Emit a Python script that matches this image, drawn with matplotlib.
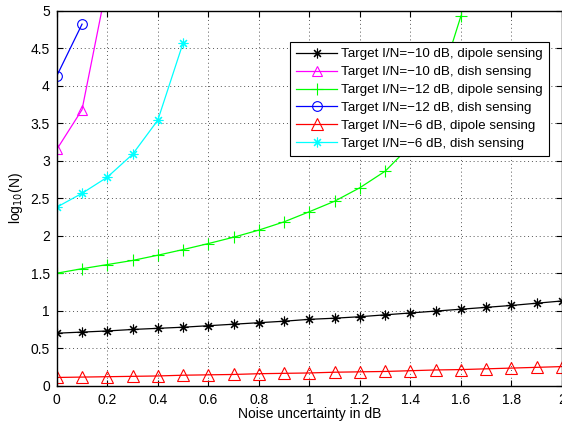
import matplotlib
matplotlib.use("Agg")
import matplotlib.pyplot as plt
import numpy as np

plt.rcParams['font.family'] = ['Liberation Sans', 'DejaVu Sans']

# noise uncertainty (dB)
x_full = np.round(np.arange(0, 2.01, 0.1), 1)

dipole_m10 = [0.70, 0.715, 0.73, 0.75, 0.765, 0.78, 0.80, 0.82, 0.84, 0.86, 0.885,
              0.90, 0.92, 0.945, 0.97, 0.995, 1.02, 1.045, 1.07, 1.10, 1.13]
dish_m10_x = [0.0, 0.1, 0.2]
dish_m10 = [3.15, 3.68, 5.37]
dipole_m12_x = x_full[:17]
dipole_m12 = [1.50, 1.56, 1.615, 1.67, 1.74, 1.815, 1.895, 1.98, 2.075, 2.185,
              2.32, 2.46, 2.64, 2.86, 3.20, 3.86, 4.93]
dish_m12_x = [0.0, 0.1]
dish_m12 = [4.13, 4.82]
dipole_m6 = [0.11, 0.115, 0.12, 0.125, 0.13, 0.14, 0.145, 0.15, 0.16, 0.165, 0.17,
             0.18, 0.185, 0.19, 0.20, 0.21, 0.215, 0.225, 0.235, 0.245, 0.255]
dish_m6_x = [0.0, 0.1, 0.2, 0.3, 0.4, 0.5]
dish_m6 = [2.38, 2.565, 2.78, 3.085, 3.54, 4.57]

labels = ["Target I/N=\u221210 dB, dipole sensing",
          "Target I/N=\u221210 dB, dish sensing",
          "Target I/N=\u221212 dB, dipole sensing",
          "Target I/N=\u221212 dB, dish sensing",
          "Target I/N=\u22126 dB, dipole sensing",
          "Target I/N=\u22126 dB, dish sensing"]

fig = plt.figure(figsize=(5.62, 4.24), dpi=100)
ax = fig.add_axes([0.101, 0.0903, 0.899, 0.8845])

lw = 0.9
ax.plot(x_full, dipole_m10, color='k', marker=(8, 2, 0), ms=7, lw=lw, mew=0.8, label=labels[0])
ax.plot(dish_m10_x, dish_m10, color='#ff00ff', marker='^', ms=7, mfc='none', lw=lw, mew=0.8, label=labels[1])
ax.plot(dipole_m12_x, dipole_m12, color='#00ff00', marker='+', ms=8, lw=lw, mew=0.8, label=labels[2])
ax.plot(dish_m12_x, dish_m12, color='#0000ff', marker='o', ms=7, mfc='none', lw=lw, mew=0.8, label=labels[3])
ax.plot(x_full, dipole_m6, color='#ff0000', marker='^', ms=8, mfc='none', lw=lw, mew=0.8, label=labels[4])
ax.plot(dish_m6_x, dish_m6, color='#00ffff', marker=(8, 2, 0), ms=7, lw=lw, mew=0.8, label=labels[5])

ax.set_xlim(0, 2)
ax.set_ylim(0, 5)
ax.set_xticks(np.arange(0, 2.01, 0.2))
ax.set_xticklabels(['0', '0.2', '0.4', '0.6', '0.8', '1', '1.2', '1.4', '1.6', '1.8', '2'])
ax.set_yticks(np.arange(0, 5.01, 0.5))
ax.set_yticklabels(['0', '0.5', '1', '1.5', '2', '2.5', '3', '3.5', '4', '4.5', '5'])
ax.tick_params(direction='in', top=True, right=True, labelsize=10, length=4, width=0.8, pad=5)
ax.grid(True, linestyle=(0, (1, 3)), color='#555555', linewidth=0.7)
for s in ax.spines.values():
    s.set_linewidth(1.0)

ax.set_xlabel("Noise uncertainty in dB", fontsize=10, labelpad=0)
ax.set_ylabel("log$_{10}$(N)", fontsize=10, labelpad=4)

leg = ax.legend(loc='upper right', bbox_to_anchor=(0.974, 0.9165), fontsize=9.6,
                handlelength=3.1, fancybox=False, framealpha=1, edgecolor='k',
                borderpad=0.45, labelspacing=0.42, handletextpad=0.3, borderaxespad=0)
leg.get_frame().set_linewidth(0.8)

fig.savefig("out.png", dpi=100)
